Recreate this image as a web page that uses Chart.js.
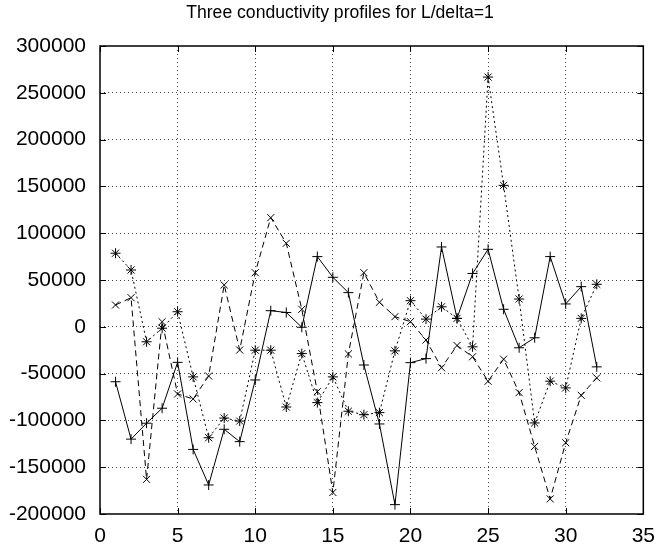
<!DOCTYPE html>
<html>
<head>
<meta charset="utf-8">
<script src="https://cdn.jsdelivr.net/npm/chart.js@4/dist/chart.umd.min.js"></script>
<style>
  html, body { margin: 0; padding: 0; background: #fff; }
  canvas { display: block; }
</style>
</head>
<body>
<canvas id="chart" width="665" height="550"></canvas>
<script>
/* ===== Data ===== */
const xs = [1, 2, 3, 4, 5, 6, 7, 8, 9, 10, 11, 12, 13, 14, 15, 16,
            17, 18, 19, 20, 21, 22, 23, 24, 25, 26, 27, 28, 29, 30, 31, 32];

// solid line, "+" markers
const profileA = [-58700, -120000, -103000, -87000, -38000, -131000, -169000, -109500,
                  -122700, -56800, 17200, 15300, -500, 75000, 52900, 36500,
                  -40800, -103800, -190000, -38300, -34000, 85300, 9000, 57000,
                  82800, 18700, -22400, -11700, 75000, 24400, 42900, -42800];

// long dashes, "x" markers
const profileB = [23300, 31100, -163000, 5400, -71800, -77100, -52600, 44700,
                  -24800, 57800, 116600, 89200, 18700, -69300, -177000, -29000,
                  57800, 26200, 10800, 5500, -14100, -43700, -20000, -32000,
                  -58200, -34600, -70300, -127800, -183900, -123900, -73200, -54600];

// short dashes, "*" markers
const profileC = [78600, 60700, -16000, -1500, 16100, -53500, -118500, -97500,
                  -100700, -25000, -25000, -85700, -28600, -81000, -53500, -90200,
                  -93900, -91700, -25700, 27900, 8200, 21400, 9000, -21400,
                  266800, 151100, 29700, -102700, -58100, -65300, 9000, 45400];

const xTicks = [0, 5, 10, 15, 20, 25, 30, 35];
const yTicks = [-200000, -150000, -100000, -50000, 0, 50000, 100000, 150000, 200000, 250000, 300000];
const titleText = 'Three conductivity profiles for L/delta=1';

const FONT = "'Liberation Sans', Arial, Helvetica, sans-serif";
Chart.defaults.font.family = FONT;
Chart.defaults.color = '#000';

const toPoints = (vals) => vals.map((v, i) => ({ x: xs[i], y: v }));

/* ===== Title (gnuplot puts it slightly right of canvas centre) ===== */
const titlePlugin = {
  id: 'gpTitle',
  afterDraw(chart) {
    const { ctx } = chart;
    ctx.save();
    ctx.font = `17.6px ${FONT}`;
    ctx.fillStyle = '#000';
    ctx.textAlign = 'center';
    ctx.textBaseline = 'middle';
    ctx.fillText(titleText, 340, 13);
    ctx.restore();
  }
};

/* ===== Frame + inward ticks (gnuplot style) ===== */
const framePlugin = {
  id: 'frame',
  afterDraw(chart) {
    const { ctx, chartArea: a, scales } = chart;
    const len = 6;
    ctx.save();
    ctx.strokeStyle = '#000';
    ctx.lineWidth = 1;
    ctx.setLineDash([]);
    ctx.beginPath();
    xTicks.forEach(v => {
      const px = Math.round(scales.x.getPixelForValue(v)) + 0.5;
      ctx.moveTo(px, a.bottom); ctx.lineTo(px, a.bottom - len);
      ctx.moveTo(px, a.top); ctx.lineTo(px, a.top + len);
    });
    yTicks.forEach(v => {
      const py = Math.round(scales.y.getPixelForValue(v)) + 0.5;
      ctx.moveTo(a.left, py); ctx.lineTo(a.left + len, py);
      ctx.moveTo(a.right, py); ctx.lineTo(a.right - len, py);
    });
    ctx.stroke();
    ctx.lineWidth = 1.5;
    ctx.strokeRect(a.left, a.top, a.right - a.left, a.bottom - a.top);
    ctx.restore();
  }
};

const line = (data, style, dash) => ({
  data: toPoints(data),
  borderColor: '#000',
  backgroundColor: '#000',
  borderWidth: 1,
  borderDash: dash,
  pointStyle: style,
  pointRadius: 5,
  pointBorderColor: '#000',
  pointBorderWidth: 1,
  tension: 0
});

new Chart(document.getElementById('chart'), {
  type: 'line',
  data: {
    datasets: [
      line(profileA, 'cross', []),
      line(profileB, 'crossRot', [6, 4]),
      line(profileC, 'star', [2, 3])
    ]
  },
  options: {
    responsive: false,
    animation: false,
    devicePixelRatio: 1,
    layout: { padding: { left: 0, right: 17, top: 46, bottom: 0 } },
    plugins: {
      legend: { display: false },
      tooltip: { enabled: false },
      title: { display: false }
    },
    scales: {
      x: {
        type: 'linear',
        min: 0,
        max: 35,
        afterFit: (s) => { s.height = 36; },
        afterBuildTicks: (s) => { s.ticks = xTicks.map(v => ({ value: v })); },
        ticks: { padding: 10, font: { size: 21 }, color: '#000', callback: (v) => String(v) },
        grid: {
          color: (c) => (c.tick && (c.tick.value === 0 || c.tick.value === 35)) ? 'rgba(0,0,0,0)' : '#444',
          drawTicks: false
        },
        border: { display: false, dash: [1, 3] }
      },
      y: {
        min: -200000,
        max: 300000,
        afterFit: (s) => { s.width = 100; },
        afterBuildTicks: (s) => { s.ticks = yTicks.map(v => ({ value: v })); },
        ticks: { padding: 14, font: { size: 21 }, color: '#000', callback: (v) => String(v) },
        grid: {
          color: (c) => (c.tick && (c.tick.value === -200000 || c.tick.value === 300000)) ? 'rgba(0,0,0,0)' : '#444',
          drawTicks: false
        },
        border: { display: false, dash: [1, 3] }
      }
    }
  },
  plugins: [titlePlugin, framePlugin]
});
</script>
</body>
</html>
